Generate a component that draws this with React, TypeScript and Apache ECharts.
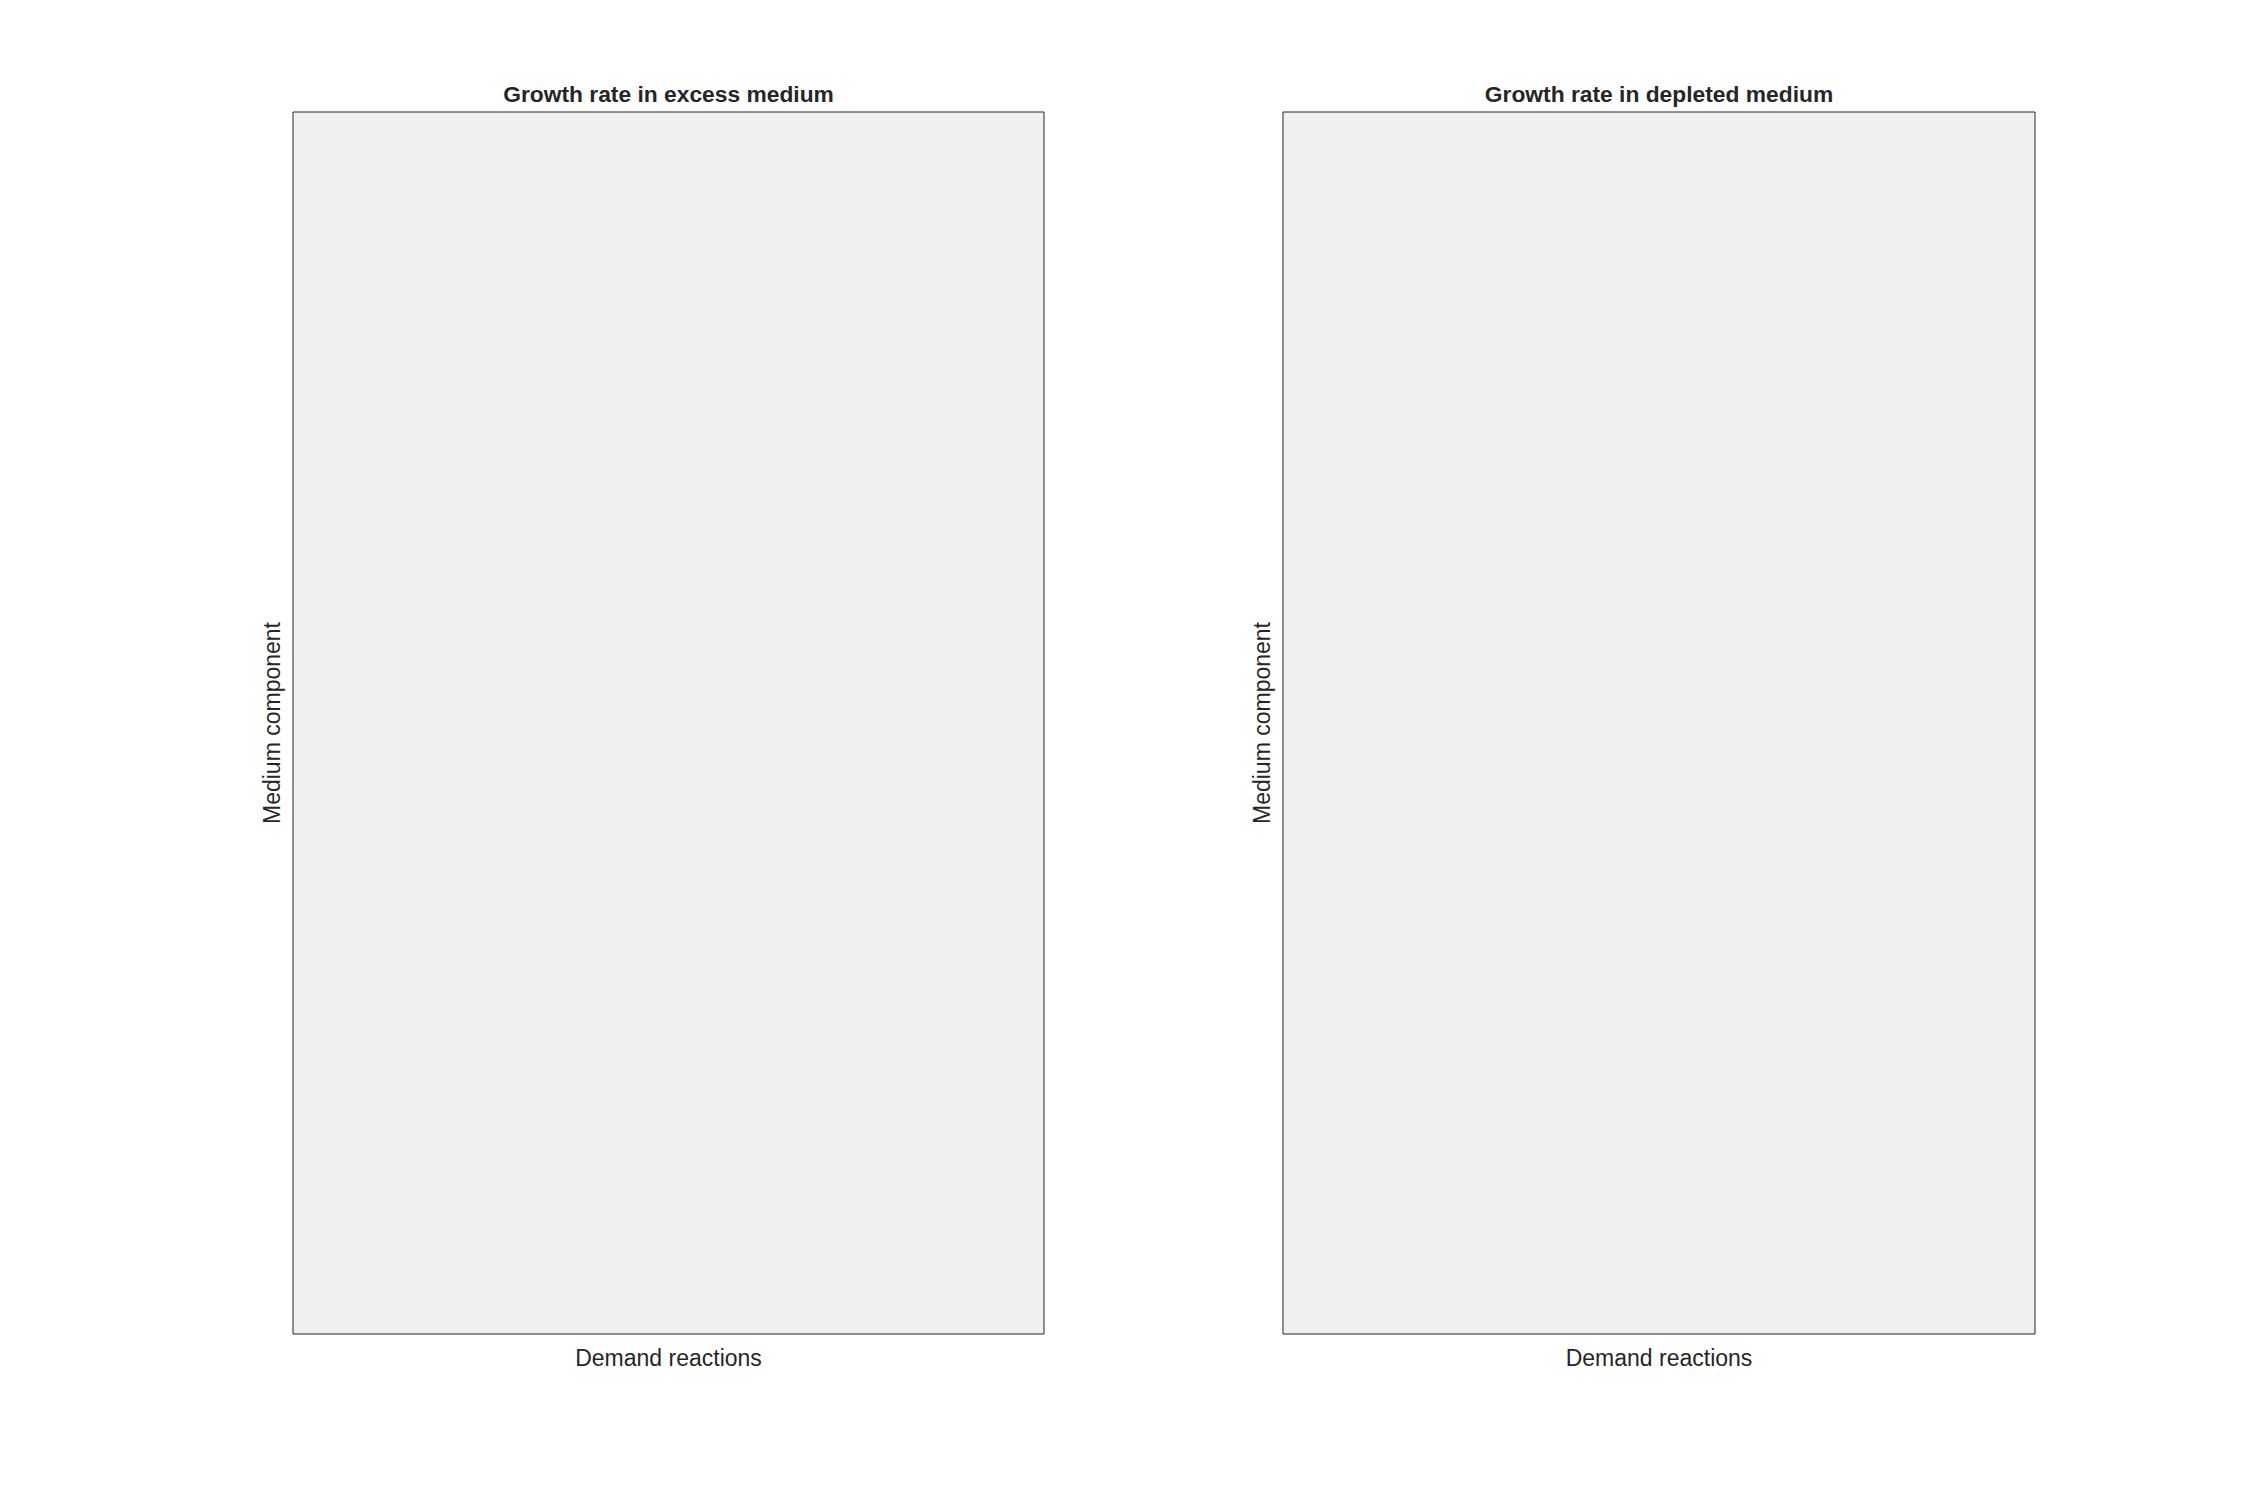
import React, { useEffect, useRef } from "react";
import * as echarts from "echarts";

// Panel titles and axis labels
const panelTitles: string[] = ["Growth rate in excess medium", "Growth rate in depleted medium"];
const xAxisNames: string[] = ["Demand reactions", "Demand reactions"];
const yAxisNames: string[] = ["Medium component", "Medium component"];
// Both panels carry no data points
const excessMediumValues: number[][] = [];
const depletedMediumValues: number[][] = [];

const FONT = "'Liberation Sans', Arial, Helvetica, sans-serif";
const TEXT_COLOR = "#262626";

export default function App() {
  const ref = useRef<HTMLDivElement>(null);
  useEffect(() => {
    if (!ref.current) return;
    const chart = echarts.init(ref.current, undefined, { renderer: "svg" });
    const grids = [
      { left: 293, top: 112, width: 751, height: 1222 },
      { left: 1283, top: 112, width: 752, height: 1222 },
    ];
    const seriesData = [excessMediumValues, depletedMediumValues];
    chart.setOption({
      animation: false,
      backgroundColor: "#ffffff",
      title: panelTitles.map((t, i) => ({
        text: t,
        left: grids[i].left + grids[i].width / 2,
        top: 82,
        textAlign: "center",
        padding: 0,
        textStyle: { fontFamily: FONT, fontSize: 22.8, fontWeight: "bold", color: TEXT_COLOR },
      })),
      grid: grids.map((g) => ({
        ...g,
        show: true,
        backgroundColor: "#f0f0f0",
        borderColor: "#262626",
        borderWidth: 1,
        containLabel: false,
      })),
      xAxis: xAxisNames.map((n, i) => ({
        type: "value",
        gridIndex: i,
        min: 0,
        max: 1,
        name: n,
        nameLocation: "middle",
        nameGap: 12,
        nameTextStyle: { fontFamily: FONT, fontSize: 23, color: TEXT_COLOR, verticalAlign: "top" },
        axisLine: { show: false },
        axisTick: { show: false },
        axisLabel: { show: false },
        splitLine: { show: false },
      })),
      yAxis: yAxisNames.map((n, i) => ({
        type: "value",
        gridIndex: i,
        min: 0,
        max: 1,
        name: n,
        nameLocation: "middle",
        nameRotate: 90,
        nameGap: 10,
        nameTextStyle: { fontFamily: FONT, fontSize: 23, color: TEXT_COLOR },
        axisLine: { show: false },
        axisTick: { show: false },
        axisLabel: { show: false },
        splitLine: { show: false },
      })),
      series: seriesData.map((d, i) => ({
        type: "scatter",
        xAxisIndex: i,
        yAxisIndex: i,
        data: d,
      })),
    });
    return () => chart.dispose();
  }, []);
  return (
    <div
      ref={ref}
      style={{ position: "fixed", left: 0, top: 0, width: 2250, height: 1500 }}
    />
  );
}
